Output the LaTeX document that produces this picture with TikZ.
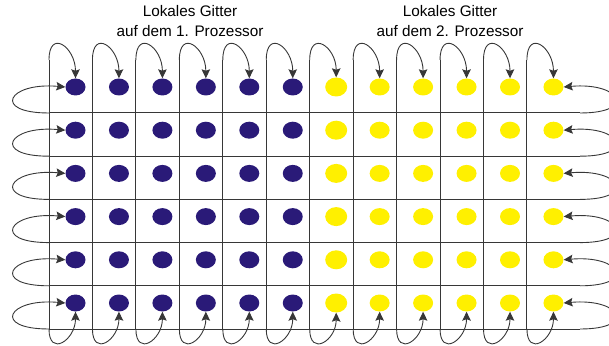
\documentclass[tikz,border=0pt]{standalone}
\usepackage{fontspec}
\setmainfont{Liberation Sans}
\usetikzlibrary{arrows.meta,shapes.geometric}
\definecolor{procblue}{RGB}{42,26,120}
\definecolor{procyellow}{RGB}{255,240,0}
\definecolor{procgray}{RGB}{55,55,55}
\begin{document}
\begin{tikzpicture}[x=1pt,y=1pt,
    dot/.style={ellipse,inner sep=0pt,minimum width=20pt,minimum height=17pt},
    bigdot/.style={ellipse,inner sep=0pt,minimum width=22pt,minimum height=19pt},
    gridline/.style={procgray,line width=1pt},
    hop/.style={procgray,line width=0.9pt,-{Stealth[length=9pt,width=8.5pt,inset=1.5pt]}},
    title/.style={align=center,inner sep=0pt,font=\fontsize{15.3}{20}\selectfont}]
        \useasboundingbox (0,0) rectangle (609,345); \clip (0,0) rectangle (609,345);
        \node[title] (t1) at (190,323.5) {Lokales Gitter\\auf dem 1. Prozessor};
        \node[title] (t2) at (450,323.5) {Lokales Gitter\\auf dem 2. Prozessor};
        \foreach \r in {1,...,6} \foreach \c in {1,...,12} {
          \pgfmathsetmacro\dx{75.5+43.45*(\c-1)} \pgfmathsetmacro\dy{258-43.2*(\r-1)}
          \ifnum\c<7 \node[dot,fill=procblue] (d-\r-\c) at (\dx,\dy) {};
          \else\ifnum\c=7 \node[bigdot,fill=procyellow] (d-\r-\c) at (\dx,\dy) {};
          \else \node[dot,fill=procyellow] (d-\r-\c) at (\dx,\dy) {}; \fi\fi}
        \foreach \c in {1,...,12} {
          \pgfmathsetmacro\lx{49+43.45*(\c-1)}
          \coordinate (vt-\c) at (\lx,285); \coordinate (vb-\c) at (\lx,16);
          \draw[gridline] (vt-\c) -- (vb-\c);
          \draw[hop] (vt-\c) to[out=90,in=90,looseness=2.5] (d-1-\c.north);
          \draw[hop] (vb-\c) to[out=-90,in=-90,looseness=2.3] (d-6-\c.south);}
        \foreach \r in {1,...,6} {
          \pgfmathsetmacro\ly{232-43.2*(\r-1)}
          \coordinate (hl-\r) at (49,\ly); \coordinate (hr-\r) at (580,\ly);
          \draw[gridline] (hl-\r) -- (hr-\r);
          \draw[hop] (hl-\r) to[out=180,in=175,looseness=4.8] (d-\r-1.west);
          \draw[hop] (hr-\r) to[out=0,in=5,looseness=4.8] (d-\r-12.east);}
      \end{tikzpicture}
\end{document}
